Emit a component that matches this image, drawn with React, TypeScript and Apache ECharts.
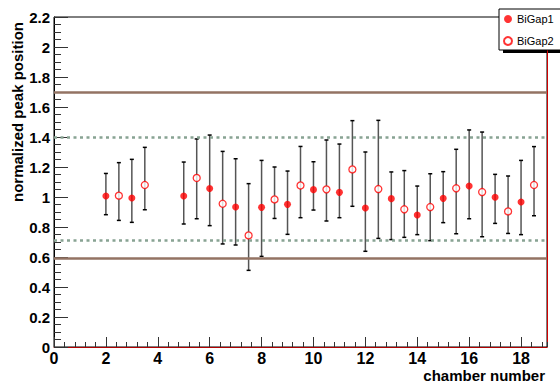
import React, { useEffect, useRef } from 'react';
import * as echarts from 'echarts';

const gap1X = [2, 3, 5, 6, 7, 8, 9, 10, 11, 12, 13, 14, 15, 16, 17, 18];
const gap1Y = [1.007, 0.993, 1.007, 1.057, 0.933, 0.931, 0.951, 1.049, 1.031, 0.927, 0.989, 0.88, 0.991, 1.073, 0.998, 0.967];
const gap1Lo = [0.882, 0.831, 0.82, 0.809, 0.68, 0.604, 0.751, 0.913, 0.862, 0.638, 0.716, 0.749, 0.829, 0.855, 0.824, 0.749];
const gap1Hi = [1.157, 1.251, 1.233, 1.413, 1.255, 1.244, 1.173, 1.235, 1.353, 1.3, 1.167, 1.073, 1.169, 1.447, 1.151, 1.244];

const gap2X = [2.5, 3.5, 5.5, 6.5, 7.5, 8.5, 9.5, 10.5, 11.5, 12.5, 13.5, 14.5, 15.5, 16.5, 17.5, 18.5];
const gap2Y = [1.009, 1.08, 1.127, 0.955, 0.744, 0.984, 1.077, 1.051, 1.184, 1.053, 0.918, 0.933, 1.058, 1.033, 0.904, 1.08];
const gap2Lo = [0.844, 0.915, 0.855, 0.687, 0.511, 0.857, 0.862, 0.84, 0.938, 0.724, 0.731, 0.709, 0.755, 0.735, 0.757, 0.875];
const gap2Hi = [1.229, 1.331, 1.387, 1.304, 1.089, 1.2, 1.337, 1.38, 1.509, 1.511, 1.176, 1.155, 1.318, 1.433, 1.14, 1.336];

const outerLimits = [1.7, 0.59];
const innerLimits = [1.4, 0.71];

const seriesNames = ['BiGap1', 'BiGap2'];
const xTitle = 'chamber number';
const yTitle = 'normalized peak position';

export default function App() {
  const ref = useRef<HTMLDivElement>(null);
  useEffect(() => {
    const chart = echarts.init(ref.current!, null, { renderer: 'svg' });
    const font = "'Liberation Sans', Arial, Helvetica, sans-serif";
    const errData = [
      ...gap1X.map((x, i) => [x, gap1Lo[i], gap1Hi[i]]),
      ...gap2X.map((x, i) => [x, gap2Lo[i], gap2Hi[i]]),
    ];
    chart.setOption({
      animation: false,
      backgroundColor: '#ffffff',
      grid: { left: 54, right: 13, top: 17, bottom: 38, show: true, borderColor: '#000', borderWidth: 1, backgroundColor: 'transparent' },
      xAxis: [
        {
          type: 'value', min: 0, max: 19, interval: 2, position: 'bottom',
          axisLine: { show: true, onZero: false, lineStyle: { color: '#b00000', width: 1 } },
          axisTick: { show: true, inside: true, length: 10, lineStyle: { color: '#333' } },
          axisLabel: { showMaxLabel: false, color: '#000', fontWeight: 'bold', fontSize: 16, fontFamily: font, margin: 3 },
          splitLine: { show: false },
        },
        {
          type: 'value', min: 0, max: 19, interval: 0.4, position: 'bottom',
          axisLine: { show: false, onZero: false },
          axisTick: { show: true, inside: true, length: 5, lineStyle: { color: '#333' } },
          axisLabel: { show: false },
          splitLine: { show: false },
        },
      ],
      yAxis: [
        {
          type: 'value', min: 0, max: 2.2, interval: 0.2,
          axisLine: { show: true, onZero: false, lineStyle: { color: '#000', width: 1 } },
          axisTick: { show: true, inside: true, length: 14, lineStyle: { color: '#333' } },
          minorTick: { show: true, splitNumber: 4, length: 7, lineStyle: { color: '#333' } },
          axisLabel: { color: '#000', fontWeight: 'bold', fontSize: 15, fontFamily: font, margin: 4, formatter: (v: number) => String(Math.round(v * 10) / 10) },
          splitLine: { show: false },
        },
        {
          type: 'value', min: 0, max: 2.2, position: 'right',
          axisLine: { show: true, onZero: false, lineStyle: { color: '#d00000', width: 1 } },
          axisTick: { show: false }, axisLabel: { show: false }, splitLine: { show: false },
        },
      ],
      legend: {
        data: seriesNames.map((n) => ({ name: n, icon: 'circle' })),
        orient: 'vertical', left: 499, top: 9,
        itemWidth: 8, itemHeight: 8, itemGap: 8,
        padding: [3, 10, 2, 4],
        backgroundColor: '#fff', borderColor: '#000', borderWidth: 1, borderRadius: 0,
        textStyle: { fontSize: 11, lineHeight: 14, fontFamily: font, color: '#000' },
      },
      graphic: [
        { type: 'rect', shape: { x: 503, y: 50, width: 60, height: 3 }, style: { fill: '#000' }, z: 0 },
        { type: 'text', x: 545, y: 375, style: { text: xTitle, textAlign: 'right', textVerticalAlign: 'middle', font: `bold 15px ${font}`, fill: '#000' } },
        { type: 'text', x: 17, y: 112, rotation: Math.PI / 2, style: { text: yTitle, textAlign: 'center', textVerticalAlign: 'middle', font: `bold 15px ${font}`, fill: '#000' } },
      ],
      series: [
        {
          name: 'limits', type: 'line', data: [], z: 1,
          markLine: {
            silent: true, symbol: 'none', label: { show: false },
            data: [
              ...outerLimits.map((v) => ({ yAxis: v, lineStyle: { color: '#937363', width: 2.5, type: 'solid' } })),
              ...innerLimits.map((v) => ({ yAxis: v, lineStyle: { color: '#88a393', width: 2.5, type: [3, 3.5] } })),
            ],
          },
        },
        {
          name: 'errors', type: 'custom', z: 2, data: errData,
          encode: { x: 0, y: [1, 2] },
          renderItem: (params: any, api: any) => {
            const x = api.value(0);
            const p1 = api.coord([x, api.value(1)]);
            const p2 = api.coord([x, api.value(2)]);
            return {
              type: 'group',
              children: [
                { type: 'line', shape: { x1: p1[0], y1: p1[1], x2: p2[0], y2: p2[1] }, style: { stroke: '#555', lineWidth: 1.5 } },
                { type: 'line', shape: { x1: p1[0] - 2, y1: p1[1], x2: p1[0] + 2, y2: p1[1] }, style: { stroke: '#000', lineWidth: 1.5 } },
                { type: 'line', shape: { x1: p2[0] - 2, y1: p2[1], x2: p2[0] + 2, y2: p2[1] }, style: { stroke: '#000', lineWidth: 1.5 } },
              ],
            };
          },
        },
        {
          name: seriesNames[0], type: 'scatter', z: 3, symbol: 'circle', symbolSize: 7,
          itemStyle: { color: '#ff0000' },
          data: gap1X.map((x, i) => [x, gap1Y[i]]),
        },
        {
          name: seriesNames[1], type: 'scatter', z: 3, symbol: 'circle', symbolSize: 7,
          itemStyle: { color: '#ffffff', borderColor: '#ff0000', borderWidth: 1.3 },
          data: gap2X.map((x, i) => [x, gap2Y[i]]),
        },
      ],
    });
    return () => chart.dispose();
  }, []);
  return <div ref={ref} style={{ position: 'absolute', left: 0, top: 0, width: 560, height: 385 }} />;
}
